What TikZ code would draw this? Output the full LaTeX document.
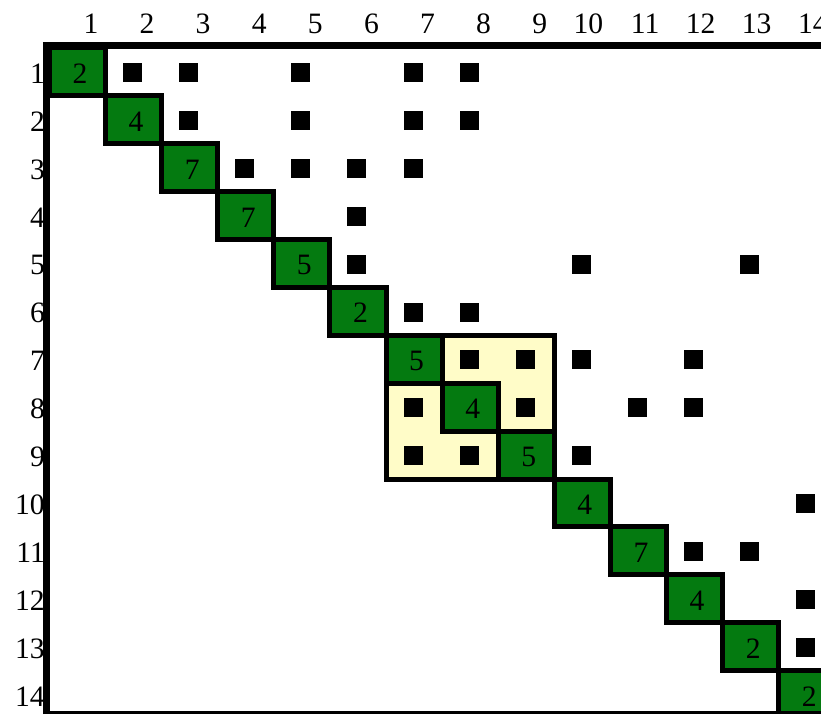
\documentclass[tikz,border=0pt]{standalone}
\usepackage{fontspec}
\setmainfont{Liberation Serif}
\definecolor{cellgreen}{RGB}{4,122,16}
\definecolor{blockyellow}{RGB}{255,252,200}
\tikzset{
  mk/.style={fill=black, draw=none, inner sep=0pt, minimum size=19pt},
  diagcell/.style={fill=cellgreen, draw=black, line width=5pt},
  blockframe/.style={draw=black, line width=5pt},
  lab/.style={inner sep=0pt, font=\fontsize{29.6}{30}\selectfont},
  num/.style={lab, anchor=base},
  collab/.style={lab, anchor=base east},
  rowlab/.style={lab, anchor=base east},
  frameline/.style={draw=black, line width=7.5pt},
  bottomline/.style={draw=black, line width=3pt}
}
\begin{document}
\begin{tikzpicture}[x=1pt,y=-1pt]
\useasboundingbox (0,0) rectangle (821,715);
\begin{scope}
\clip (0,0) rectangle (821,712);
\begin{scope}[shift={(49.4pt,-47.9pt)}, x=56.1pt, y=-47.9pt]
  % block fill
  \fill[blockyellow] (6,6) rectangle (9,9);
  % off-diagonal nonzeros
  \foreach \i/\j in {1/2,1/3,1/5,1/7,1/8,
                     2/3,2/5,2/7,2/8,
                     3/4,3/5,3/6,3/7,
                     4/6,
                     5/6,5/10,5/13,
                     6/7,6/8,
                     7/8,7/9,7/10,7/12,
                     8/7,8/9,8/11,8/12,
                     9/7,9/8,9/10,
                     10/14,
                     11/12,11/13,
                     12/14,
                     13/14}
    \node[mk, xshift=-1pt, yshift=-0.7pt] (m\i-\j) at (\j-0.5,\i-0.5) {};
  % diagonal blocks
  \foreach \k/\v in {1/2,2/4,3/7,4/7,5/5,6/2,7/5,8/4,9/5,10/4,11/7,12/4,13/2,14/2} {
    \filldraw[diagcell] (\k-1,\k-1) rectangle (\k,\k);
    \node[num, xshift=2.5pt, yshift=-11.5pt] (d\k) at (\k-0.5,\k-0.5) {\v};
  }
  % supernode block frame
  \draw[blockframe] (6,6) rectangle (9,9);
\end{scope}
\end{scope}
\begin{scope}[shift={(49.4pt,-47.9pt)}, x=56.1pt, y=-47.9pt]
  \foreach \k in {1,...,14} {
    \node[collab, xshift=-7pt, yshift=14.9pt] (c\k) at (\k,0) {\k};
    \node[rowlab, xshift=-4.4pt, yshift=-11.5pt] (r\k) at (0,\k-0.5) {\k};
  }
\end{scope}
% matrix frame
\draw[frameline] (46.5,714) -- (46.5,41.75);
\draw[frameline] (42.75,45.5) -- (821,45.5);
\draw[bottomline] (43,712.5) -- (821,712.5);
\end{tikzpicture}
\end{document}
